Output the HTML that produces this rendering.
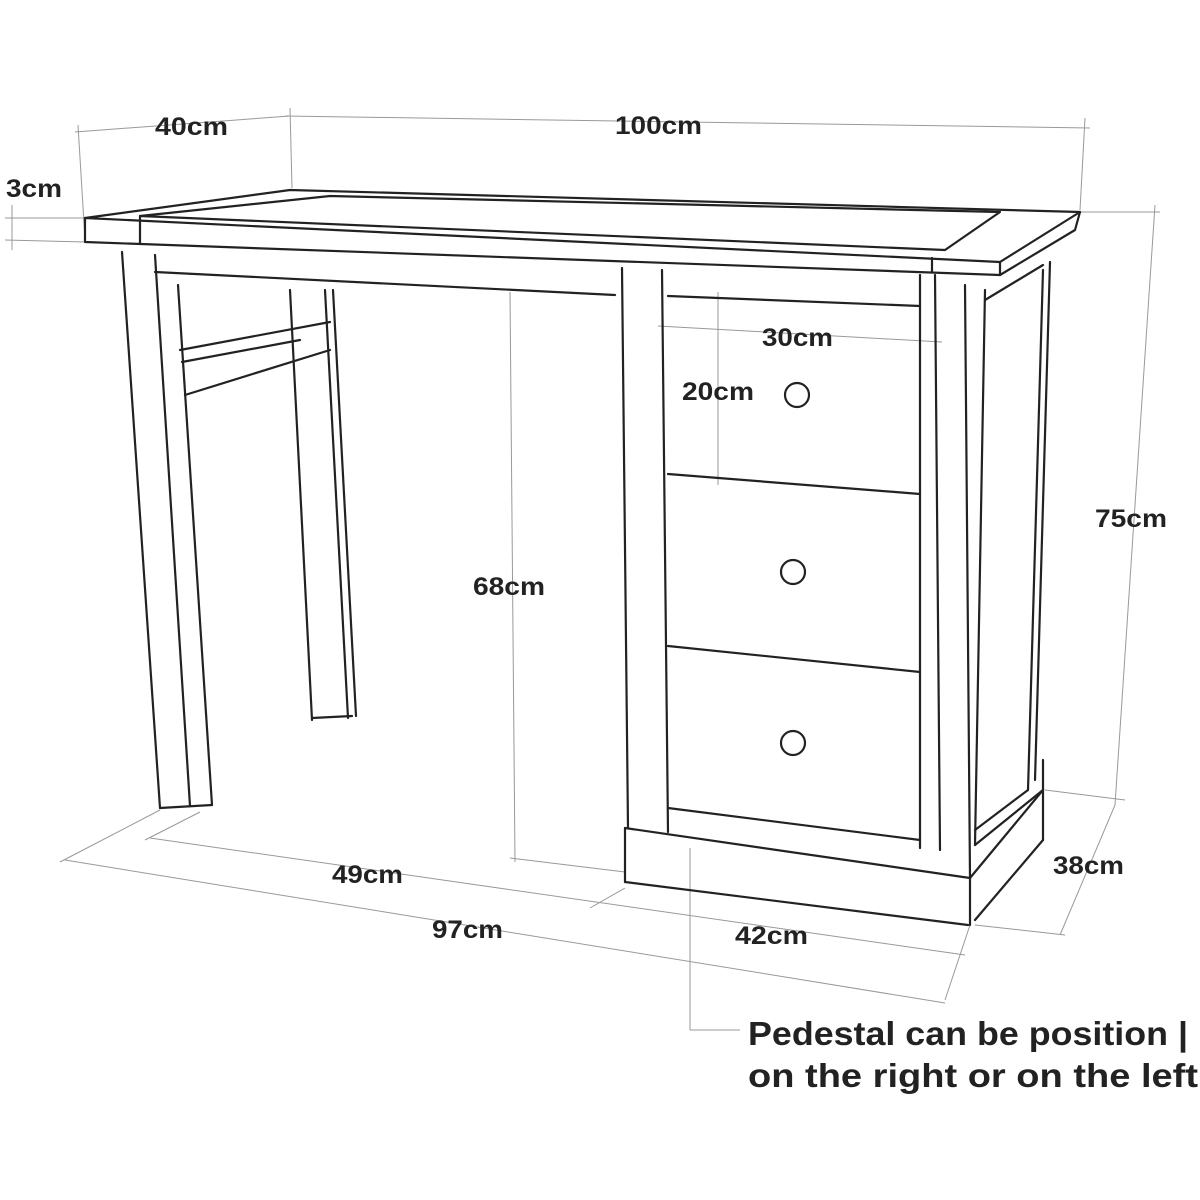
<!DOCTYPE html>
<html><head><meta charset="utf-8"><style>
html,body{margin:0;padding:0;background:#fff;}
svg{display:block}
text{font-family:"Liberation Sans",sans-serif;font-weight:bold;fill:#222;}
</style></head><body>
<svg width="1200" height="1200" viewBox="0 0 1200 1200" xmlns="http://www.w3.org/2000/svg">
<g stroke="#999" stroke-width="1" fill="none">
<line x1="75" y1="132" x2="290" y2="116"/>
<line x1="285" y1="116" x2="1090" y2="128"/>
<line x1="78" y1="125" x2="85" y2="240"/>
<line x1="290" y1="108" x2="292" y2="188"/>
<line x1="1085" y1="118" x2="1080" y2="210"/>
<line x1="5" y1="218" x2="85" y2="218"/>
<line x1="5" y1="240" x2="85" y2="242"/>
<line x1="12" y1="205" x2="12" y2="250"/>
<line x1="1080" y1="212" x2="1160" y2="212"/>
<line x1="1155" y1="205" x2="1115" y2="805"/>
<line x1="1045" y1="790" x2="1125" y2="800"/>
<line x1="1115" y1="805" x2="1060" y2="935"/>
<line x1="975" y1="925" x2="1065" y2="935"/>
<line x1="510" y1="292" x2="515" y2="862"/>
<line x1="510" y1="858" x2="625" y2="872"/>
<line x1="65" y1="860" x2="945" y2="1003"/>
<line x1="60" y1="862" x2="160" y2="810"/>
<line x1="150" y1="838" x2="965" y2="955"/>
<line x1="145" y1="840" x2="200" y2="812"/>
<line x1="590" y1="908" x2="625" y2="888"/>
<line x1="945" y1="1000" x2="970" y2="925"/>
<line x1="658" y1="326" x2="942" y2="342"/>
<line x1="718" y1="292" x2="718" y2="485"/>
<line x1="690" y1="848" x2="690" y2="1030"/>
<line x1="690" y1="1030" x2="740" y2="1030"/>
</g>
<g stroke="#222" stroke-width="2.2" fill="none" stroke-linejoin="round" stroke-linecap="round">
<polygon points="85,218 290,190 1080,212 1000,262"/>
<polyline points="85,218 85,242 1000,275 1000,262"/>
<polyline points="1000,275 1075,230 1080,212"/>
<polygon points="140,216 330,196 1000,212 945,250"/>
<line x1="140" y1="216" x2="140" y2="244"/>
<line x1="932" y1="258" x2="932" y2="272"/>
<line x1="122" y1="252" x2="160" y2="808"/>
<line x1="155" y1="255" x2="190" y2="806"/>
<line x1="178" y1="285" x2="212" y2="805"/>
<line x1="160" y1="808" x2="212" y2="805"/>
<line x1="155" y1="272" x2="615" y2="295"/>
<line x1="290" y1="290" x2="312" y2="720"/>
<line x1="325" y1="290" x2="348" y2="718"/>
<line x1="333" y1="290" x2="356" y2="716"/>
<line x1="312" y1="718" x2="352" y2="716"/>
<line x1="180" y1="350" x2="330" y2="322"/>
<line x1="182" y1="362" x2="300" y2="340"/>
<line x1="185" y1="395" x2="330" y2="350"/>
<line x1="622" y1="268" x2="628" y2="828"/>
<line x1="662" y1="270" x2="668" y2="832"/>
<line x1="920" y1="275" x2="920" y2="848"/>
<line x1="935" y1="275" x2="940" y2="850"/>
<line x1="668" y1="296" x2="920" y2="306"/>
<line x1="668" y1="474" x2="920" y2="494"/>
<line x1="668" y1="646" x2="920" y2="672"/>
<line x1="668" y1="808" x2="920" y2="840"/>
<circle cx="797" cy="395" r="12"/>
<circle cx="793" cy="572" r="12"/>
<circle cx="793" cy="743" r="12"/>
<line x1="965" y1="285" x2="970" y2="878"/>
<line x1="985" y1="290" x2="975" y2="845"/>
<line x1="985" y1="300" x2="1043" y2="265"/>
<line x1="1043" y1="270" x2="1028" y2="790"/>
<line x1="1050" y1="262" x2="1035" y2="780"/>
<line x1="975" y1="830" x2="1028" y2="790"/>
<line x1="975" y1="845" x2="1043" y2="790"/>
<line x1="625" y1="828" x2="970" y2="878"/>
<line x1="625" y1="828" x2="625" y2="882"/>
<line x1="625" y1="882" x2="968" y2="925"/>
<line x1="970" y1="878" x2="970" y2="925"/>
<line x1="970" y1="878" x2="1043" y2="790"/>
<line x1="975" y1="920" x2="1043" y2="840"/>
<line x1="1043" y1="760" x2="1043" y2="840"/>
</g>
<g font-size="25">
<text x="155" y="135" textLength="73" lengthAdjust="spacingAndGlyphs">40cm</text>
<text x="615" y="134" textLength="87" lengthAdjust="spacingAndGlyphs">100cm</text>
<text x="6" y="197" textLength="56" lengthAdjust="spacingAndGlyphs">3cm</text>
<text x="762" y="346" textLength="71" lengthAdjust="spacingAndGlyphs">30cm</text>
<text x="682" y="400" textLength="72" lengthAdjust="spacingAndGlyphs">20cm</text>
<text x="1095" y="527" textLength="72" lengthAdjust="spacingAndGlyphs">75cm</text>
<text x="473" y="595" textLength="72" lengthAdjust="spacingAndGlyphs">68cm</text>
<text x="1053" y="874" textLength="71" lengthAdjust="spacingAndGlyphs">38cm</text>
<text x="332" y="883" textLength="71" lengthAdjust="spacingAndGlyphs">49cm</text>
<text x="432" y="938" textLength="71" lengthAdjust="spacingAndGlyphs">97cm</text>
<text x="735" y="944" textLength="73" lengthAdjust="spacingAndGlyphs">42cm</text>
</g>
<text x="748" y="1045" font-size="33" textLength="440" lengthAdjust="spacingAndGlyphs">Pedestal can be position |</text>
<text x="748" y="1087" font-size="33" textLength="450" lengthAdjust="spacingAndGlyphs">on the right or on the left</text>
</svg>
</body></html>
